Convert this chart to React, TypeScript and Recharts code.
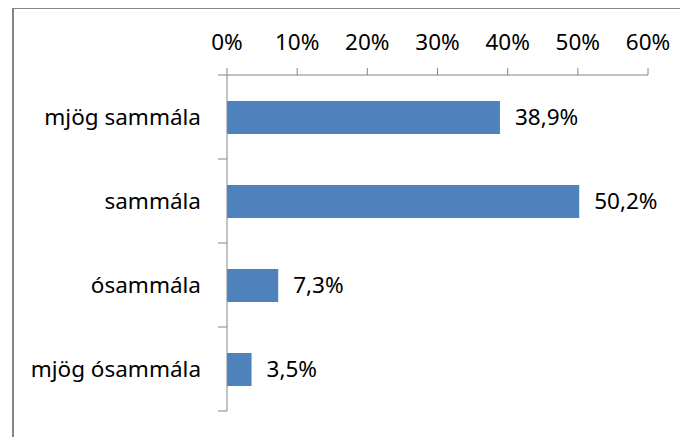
import { BarChart, Bar, XAxis, YAxis, LabelList } from 'recharts';

const categories = ['mjög sammála', 'sammála', 'ósammála', 'mjög ósammála'];
const shares = [38.9, 50.2, 7.3, 3.5];
const xTicks = [0, 10, 20, 30, 40, 50, 60];

const data = categories.map((name, i) => ({ name, share: shares[i] }));

const AXIS = '#868686';
const FONT = '"Noto Sans", sans-serif';
const FS = 22.5;
const CAT_MARGIN = 26;

const pct = (v: number) => `${v}%`;
const pctComma = (v: any) => `${Number(v).toFixed(1).replace('.', ',')}%`;

// category label in the band centre, tick marks on the band edges (Excel style)
function CategoryTick(props: any) {
  const { x, y, payload, index } = props;
  const half = payload.offset;
  const ax = x + CAT_MARGIN;
  return (
    <g>
      <text x={x} y={y} dy="0.36em" textAnchor="end" fill="#000" fontSize={FS} fontFamily={FONT}>
        {payload.value}
      </text>
      <line x1={ax - 9} x2={ax} y1={y - half} y2={y - half} stroke={AXIS} />
      {index === categories.length - 1 && (
        <line x1={ax - 9} x2={ax} y1={y + half} y2={y + half} stroke={AXIS} />
      )}
    </g>
  );
}

export default function App() {
  return (
    <div style={{ width: 680, height: 429, overflow: 'hidden', paddingLeft: 4, boxSizing: 'border-box' }}>
      <div
        style={{
          width: 720,
          height: 460,
          borderTop: `1px solid ${AXIS}`,
          borderLeft: `2px solid ${AXIS}`,
          background: '#fff',
        }}
      >
        <BarChart
          width={670}
          height={427}
          data={data}
          layout="vertical"
          margin={{ top: 0, right: 36, bottom: 25, left: 0 }}
          style={{ fontFamily: FONT }}
        >
          <XAxis
            type="number"
            orientation="top"
            domain={[0, 60]}
            ticks={xTicks}
            tickFormatter={pct}
            height={66}
            stroke={AXIS}
            tickSize={7}
            tickMargin={18}
            tick={{ fill: '#000', fontSize: FS }}
            interval={0}
          />
          <YAxis
            type="category"
            dataKey="name"
            width={213}
            stroke={AXIS}
            tickLine={false}
            tickSize={0}
            tickMargin={CAT_MARGIN}
            tick={<CategoryTick />}
            interval={0}
          />
          <Bar dataKey="share" fill="#4F81BD" barSize={33} isAnimationActive={false}>
            <LabelList
              dataKey="share"
              position="right"
              offset={15}
              formatter={pctComma}
              style={{ fill: '#000', fontSize: FS, fontFamily: FONT }}
            />
          </Bar>
        </BarChart>
      </div>
    </div>
  );
}
